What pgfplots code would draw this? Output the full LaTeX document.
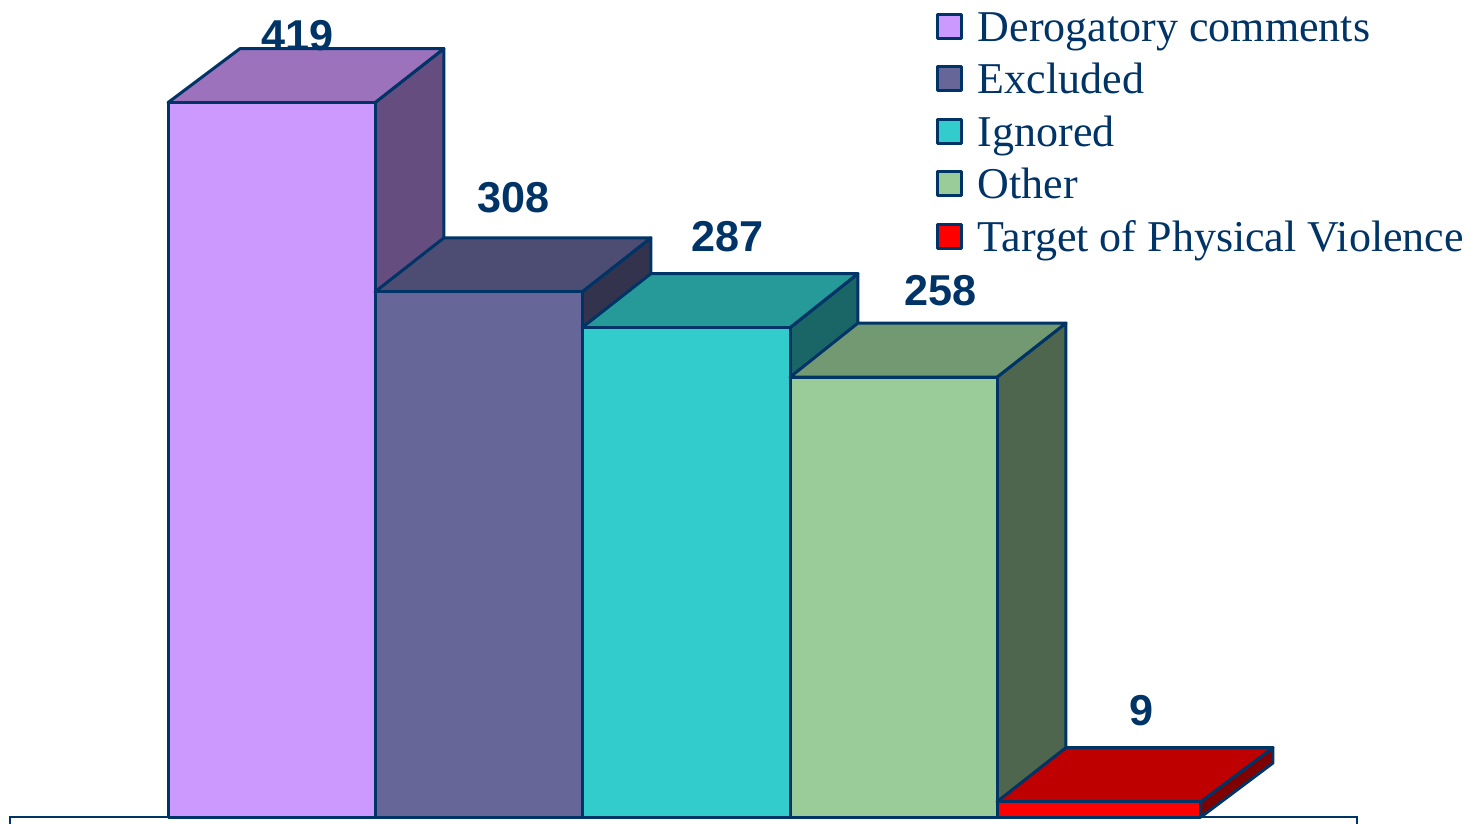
\documentclass[border=0pt]{standalone}
\usepackage{fontspec}
\setmainfont{Liberation Serif}
\newfontfamily\numfont{Liberation Sans}[Scale=1]
\usepackage{pgfplots}
\pgfplotsset{compat=1.18}
\definecolor{edge}{HTML}{003366}
\definecolor{purA}{HTML}{CC99FF}\definecolor{purB}{HTML}{9C72BD}\definecolor{purC}{HTML}{664D7F}
\definecolor{excA}{HTML}{666699}\definecolor{excB}{HTML}{4D4D73}\definecolor{excC}{HTML}{33334D}
\definecolor{teaA}{HTML}{33CCCC}\definecolor{teaB}{HTML}{269999}\definecolor{teaC}{HTML}{1A6666}
\definecolor{othA}{HTML}{99CC99}\definecolor{othB}{HTML}{739973}\definecolor{othC}{HTML}{4D664D}
\definecolor{redA}{HTML}{FF0000}\definecolor{redB}{HTML}{BF0000}\definecolor{redC}{HTML}{800000}
\tikzset{
  face/.style={draw=edge,line width=1.5pt,line join=round},
  val/.style={font=\numfont\bfseries\fontsize{21.6}{24}\selectfont,text=edge,anchor=base,inner sep=0pt},
}
\begin{document}
\begin{tikzpicture}
\path[use as bounding box] (0,0) rectangle (742pt,412pt);
\begin{axis}[
  at={(0,0)}, anchor=south west,
  scale only axis, width=742pt, height=412pt,
  hide axis,
  xmin=-0.8116, xmax=6.3575,
  ymin=-4.1, ymax=479.2,
  legend style={at={(0.6307,0.989)},anchor=north west,draw=none,fill=none,inner sep=0pt,outer sep=0pt,
    font=\fontsize{22}{24}\selectfont,text=edge,row sep=5.25pt,
    nodes={text height=16pt,text depth=5pt,inner sep=0pt,outer sep=0pt},
    /tikz/column 1/.style={column sep=7.5pt}},
  legend cell align=left,
  legend image code/.code={\draw[#1,line width=1.5pt] (0pt,-4pt) rectangle (12pt,8pt);},
]
% frame along the bottom, cut off by the edge of the picture
\addplot[draw=edge,line width=1.3pt,forget plot] coordinates {(-0.763,-30) (-0.763,0) (5.744,0) (5.744,-30)};

% Derogatory comments
\addplot[face,fill=purC,forget plot] coordinates {(1,0) (1,419) (1.333,450.7) (1.333,31.7)} --cycle;
\addplot[face,fill=purB,forget plot] coordinates {(0,419) (1,419) (1.333,450.7) (0.348,450.7)} --cycle;
\addplot[face,fill=purA] coordinates {(0,0) (0,419) (1,419) (1,0)} --cycle;
\addlegendentry{Derogatory comments}

% Excluded
\addplot[face,fill=excC,forget plot] coordinates {(2,0) (2,308) (2.333,339.7) (2.333,31.7)} --cycle;
\addplot[face,fill=excB,forget plot] coordinates {(1,308) (2,308) (2.333,339.7) (1.333,339.7)} --cycle;
\addplot[face,fill=excA] coordinates {(1,0) (1,308) (2,308) (2,0)} --cycle;
\addlegendentry{Excluded}

% Ignored
\addplot[face,fill=teaC,forget plot] coordinates {(3.005,0) (3.005,287) (3.333,318.7) (3.333,31.7)} --cycle;
\addplot[face,fill=teaB,forget plot] coordinates {(2,287) (3.005,287) (3.333,318.7) (2.333,318.7)} --cycle;
\addplot[face,fill=teaA] coordinates {(2,0) (2,287) (3.005,287) (3.005,0)} --cycle;
\addlegendentry{Ignored}

% Other
\addplot[face,fill=othC,forget plot] coordinates {(4.005,0) (4.005,258) (4.338,289.7) (4.338,31.7)} --cycle;
\addplot[face,fill=othB,forget plot] coordinates {(3.005,258) (4.005,258) (4.338,289.7) (3.333,289.7)} --cycle;
\addplot[face,fill=othA] coordinates {(3.005,0) (3.005,258) (4.005,258) (4.005,0)} --cycle;
\addlegendentry{Other}

% Target of Physical Violence
\addplot[face,fill=redC,forget plot] coordinates {(4.99,0) (4.99,9) (5.338,40.7) (5.338,31.7)} --cycle;
\addplot[face,fill=redB,forget plot] coordinates {(4.005,9) (4.99,9) (5.338,40.7) (4.338,40.7)} --cycle;
\addplot[face,fill=redA] coordinates {(4.005,0) (4.005,9) (4.99,9) (4.99,0)} --cycle;
\addlegendentry{Target of Physical Violence}

\node[val] at (axis cs:0.624,449.8) {419};
\node[val] at (axis cs:1.671,354.3) {308};
\node[val] at (axis cs:2.705,331.4) {287};
\node[val] at (axis cs:3.734,300.3) {258};
\node[val] at (axis cs:4.705,53.6) {9};
\end{axis}
\end{tikzpicture}
\end{document}
